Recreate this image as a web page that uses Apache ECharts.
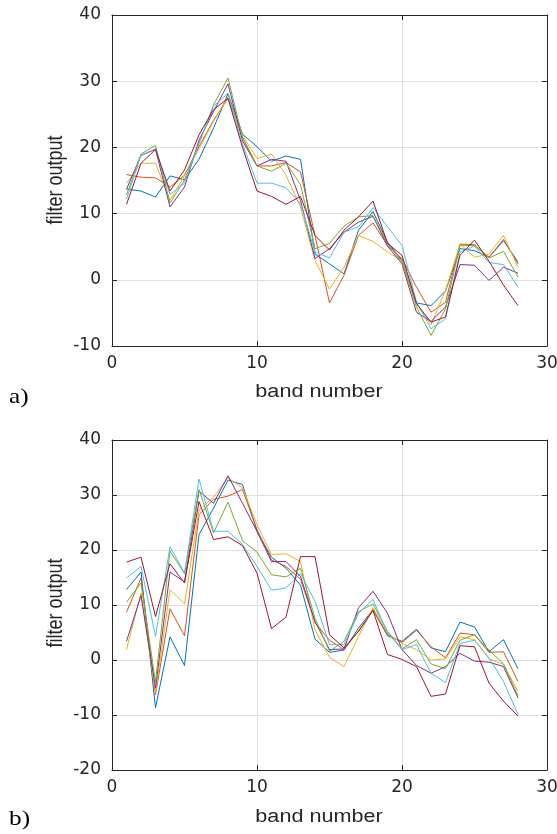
<!DOCTYPE html>
<html><head><meta charset="utf-8">
<script src="https://cdn.jsdelivr.net/npm/echarts@6/dist/echarts.min.js"></script>
<style>html,body{margin:0;padding:0;background:#fff}#c{width:557px;height:834px}</style>
</head><body><div id="c"></div>
<script>
// band numbers (x)
const bands = [1,2,3,4,5,6,7,8,9,10,11,12,13,14,15,16,17,18,19,20,21,22,23,24,25,26,27,28];

// panel a) filter outputs
const a1 = [13.7,13.4,12.5,15.7,15.1,18.2,22.9,28.1,22.0,20.1,17.9,18.7,18.2,3.9,2.4,0.9,7.5,10.3,5.7,2.9,-3.5,-3.9,-1.7,4.7,4.4,3.4,5.9,2.7];
const a2 = [15.9,15.5,15.4,14.0,15.8,20.1,24.1,27.4,21.5,17.2,17.2,17.7,16.3,6.7,-3.5,0.7,6.7,8.6,5.2,3.2,-1.1,-4.9,-3.4,5.4,5.3,3.4,6.1,2.4];
const a3 = [14.6,17.6,17.6,12.0,15.7,19.8,23.9,27.7,21.8,18.3,19.0,15.8,11.0,2.9,-1.4,1.9,6.7,5.8,4.2,2.9,-3.6,-6.8,-1.6,5.4,3.4,3.9,6.7,1.9];
const a4 = [13.7,18.8,19.7,11.0,14.0,21.1,25.4,29.6,21.0,17.2,18.2,17.9,12.0,3.2,4.7,7.2,8.7,9.6,5.1,2.4,-4.9,-6.3,-4.1,2.3,2.2,-0.1,1.9,1.0];
const a5 = [12.8,19.0,20.3,11.6,15.1,20.6,26.4,30.5,21.5,17.2,16.4,17.6,14.4,4.7,5.5,8.1,9.5,9.7,5.5,2.7,-4.1,-8.4,-4.4,5.2,5.2,3.3,4.3,0.4];
const a6 = [12.2,18.8,19.8,12.9,14.6,20.6,26.2,28.2,20.5,14.6,14.6,13.9,11.5,4.2,3.3,7.2,8.0,10.9,8.0,5.2,-3.4,-7.4,-5.9,4.2,5.1,2.6,2.3,-1.1];
const a7 = [11.4,17.6,19.7,13.4,16.6,21.9,25.7,27.4,20.0,13.4,12.6,11.4,12.6,6.7,4.5,7.5,9.5,11.9,5.5,3.7,-3.6,-6.4,-5.6,3.7,6.0,2.8,-0.8,-3.9];

// panel b) filter outputs
const b1 = [12.8,16.0,-8.7,4.2,-1.0,22.8,27.6,32.7,31.9,23.4,18.7,16.7,13.6,3.8,1.4,1.8,5.8,9.2,4.4,3.4,5.6,2.2,1.5,6.9,6.0,1.5,3.7,-1.6];
const b2 = [8.7,14.9,-6.3,9.3,4.4,26.4,29.2,29.8,31.0,23.7,18.2,17.0,14.7,6.8,3.6,1.9,5.3,9.0,4.6,3.2,5.4,2.4,0.4,4.9,4.6,1.4,1.5,-3.9];
const b3 = [1.9,12.2,-6.0,12.8,10.2,27.3,29.6,33.1,31.3,24.6,19.2,19.3,17.9,5.5,0.5,-1.2,4.3,9.5,4.9,3.0,1.9,0.0,0.2,4.2,3.7,0.2,-0.8,-5.7];
const b4 = [3.4,11.7,-5.1,16.0,14.2,30.7,28.5,33.5,28.5,23.4,17.9,17.9,15.2,7.0,1.9,2.0,9.5,12.5,8.5,1.9,-1.0,-2.4,-1.2,1.2,-0.2,-0.4,-1.2,-6.9];
const b5 = [10.5,14.0,-4.0,19.8,15.7,31.0,23.1,28.7,21.7,19.6,15.5,15.1,16.7,7.6,1.6,3.4,8.8,10.2,5.2,2.0,3.7,-0.7,-1.6,3.6,4.6,1.8,-0.7,-6.5];
const b6 = [14.9,17.0,4.3,20.6,15.8,32.9,23.4,23.4,21.0,17.0,12.7,13.1,15.7,10.7,2.8,2.8,8.5,11.0,4.9,1.9,2.8,-2.4,-4.1,3.0,3.6,0.4,-3.9,-9.9];
const b7 = [17.8,18.7,7.9,17.5,14.0,28.8,21.9,22.4,20.8,15.8,5.7,7.8,18.8,18.8,4.6,2.2,5.2,9.0,1.0,0.1,-1.2,-6.6,-6.2,2.6,2.4,-4.2,-7.5,-10.2];

const seriesA = [a1,a2,a3,a4,a5,a6,a7];
const seriesB = [b1,b2,b3,b4,b5,b6,b7];
const colors = ['#0072BD','#D95319','#EDB120','#7E2F8E','#77AC30','#4DBEEE','#A2142F'];

// axis ranges / labels
const xRange = [0, 30], xStep = 10;
const yRangeA = [-10, 40], yRangeB = [-20, 40], yStep = 10;
const xLabel = 'band number', yLabel = 'filter output';
const panelLabels = ['a)', 'b)'];

const AX = '#262626', GRIDC = '#dfdfdf';
const tickFont = {color: AX, fontSize: 17, fontFamily: 'DejaVu Sans'};

function xAxes(gi) {
  const base = {gridIndex: gi, type: 'value', min: xRange[0], max: xRange[1], interval: xStep,
    axisLine: {show: true, onZero: false, lineStyle: {color: AX, width: 1}},
    axisTick: {show: true, inside: true, length: 5, lineStyle: {color: AX}}};
  return [
    Object.assign({}, base, {position: 'bottom', axisLabel: Object.assign({margin: 9}, tickFont),
      splitLine: {show: true, lineStyle: {color: GRIDC, width: 1}}}),
    Object.assign({}, base, {position: 'top', axisLabel: {show: false}, splitLine: {show: false}})
  ];
}
function yAxes(gi, r) {
  const base = {gridIndex: gi, type: 'value', min: r[0], max: r[1], interval: yStep,
    axisLine: {show: true, onZero: false, lineStyle: {color: AX, width: 1}},
    axisTick: {show: true, inside: true, length: 5, lineStyle: {color: AX}}};
  return [
    Object.assign({}, base, {position: 'left', axisLabel: Object.assign({margin: 11}, tickFont),
      splitLine: {show: true, lineStyle: {color: GRIDC, width: 1}}}),
    Object.assign({}, base, {position: 'right', axisLabel: {show: false}, splitLine: {show: false}})
  ];
}

const series = [];
seriesA.forEach((vals, i) => series.push({type: 'line', xAxisIndex: 0, yAxisIndex: 0, symbol: 'none',
  data: bands.map((b, k) => [b, vals[k]]), lineStyle: {color: colors[i], width: 1}, itemStyle: {color: colors[i]}}));
seriesB.forEach((vals, i) => series.push({type: 'line', xAxisIndex: 2, yAxisIndex: 2, symbol: 'none',
  data: bands.map((b, k) => [b, vals[k]]), lineStyle: {color: colors[i], width: 1}, itemStyle: {color: colors[i]}}));

const labelFont = '18px "Liberation Sans", Arial, sans-serif';
const panelFont = '22px "Liberation Serif", "Times New Roman", serif';

const chart = echarts.init(document.getElementById('c'), null, {renderer: 'canvas'});
chart.setOption({
  animation: false,
  backgroundColor: '#fff',
  grid: [
    {left: 112, top: 15, width: 435, height: 331, containLabel: false, outerBoundsMode: 'none'},
    {left: 112, top: 440, width: 435, height: 330, containLabel: false, outerBoundsMode: 'none'}
  ],
  xAxis: xAxes(0).concat(xAxes(1)),
  yAxis: yAxes(0, yRangeA).concat(yAxes(1, yRangeB)),
  series: series,
  graphic: [
    {type: 'text', x: 56, y: 180, rotation: Math.PI / 2, scaleY: 1.2, style: {text: yLabel, font: labelFont, fill: AX, textAlign: 'center', textVerticalAlign: 'middle'}},
    {type: 'text', x: 56, y: 603, rotation: Math.PI / 2, scaleY: 1.2, style: {text: yLabel, font: labelFont, fill: AX, textAlign: 'center', textVerticalAlign: 'middle'}},
    {type: 'text', x: 319, y: 392, scaleX: 1.2, style: {text: xLabel, font: labelFont, fill: AX, textAlign: 'center', textVerticalAlign: 'middle'}},
    {type: 'text', x: 319, y: 817, scaleX: 1.2, style: {text: xLabel, font: labelFont, fill: AX, textAlign: 'center', textVerticalAlign: 'middle'}},
    {type: 'text', x: 9, y: 397, scaleX: 1.15, style: {text: panelLabels[0], font: panelFont, fill: '#000', textAlign: 'left', textVerticalAlign: 'middle'}},
    {type: 'text', x: 9, y: 819, scaleX: 1.15, style: {text: panelLabels[1], font: panelFont, fill: '#000', textAlign: 'left', textVerticalAlign: 'middle'}}
  ]
});
</script></body></html>
